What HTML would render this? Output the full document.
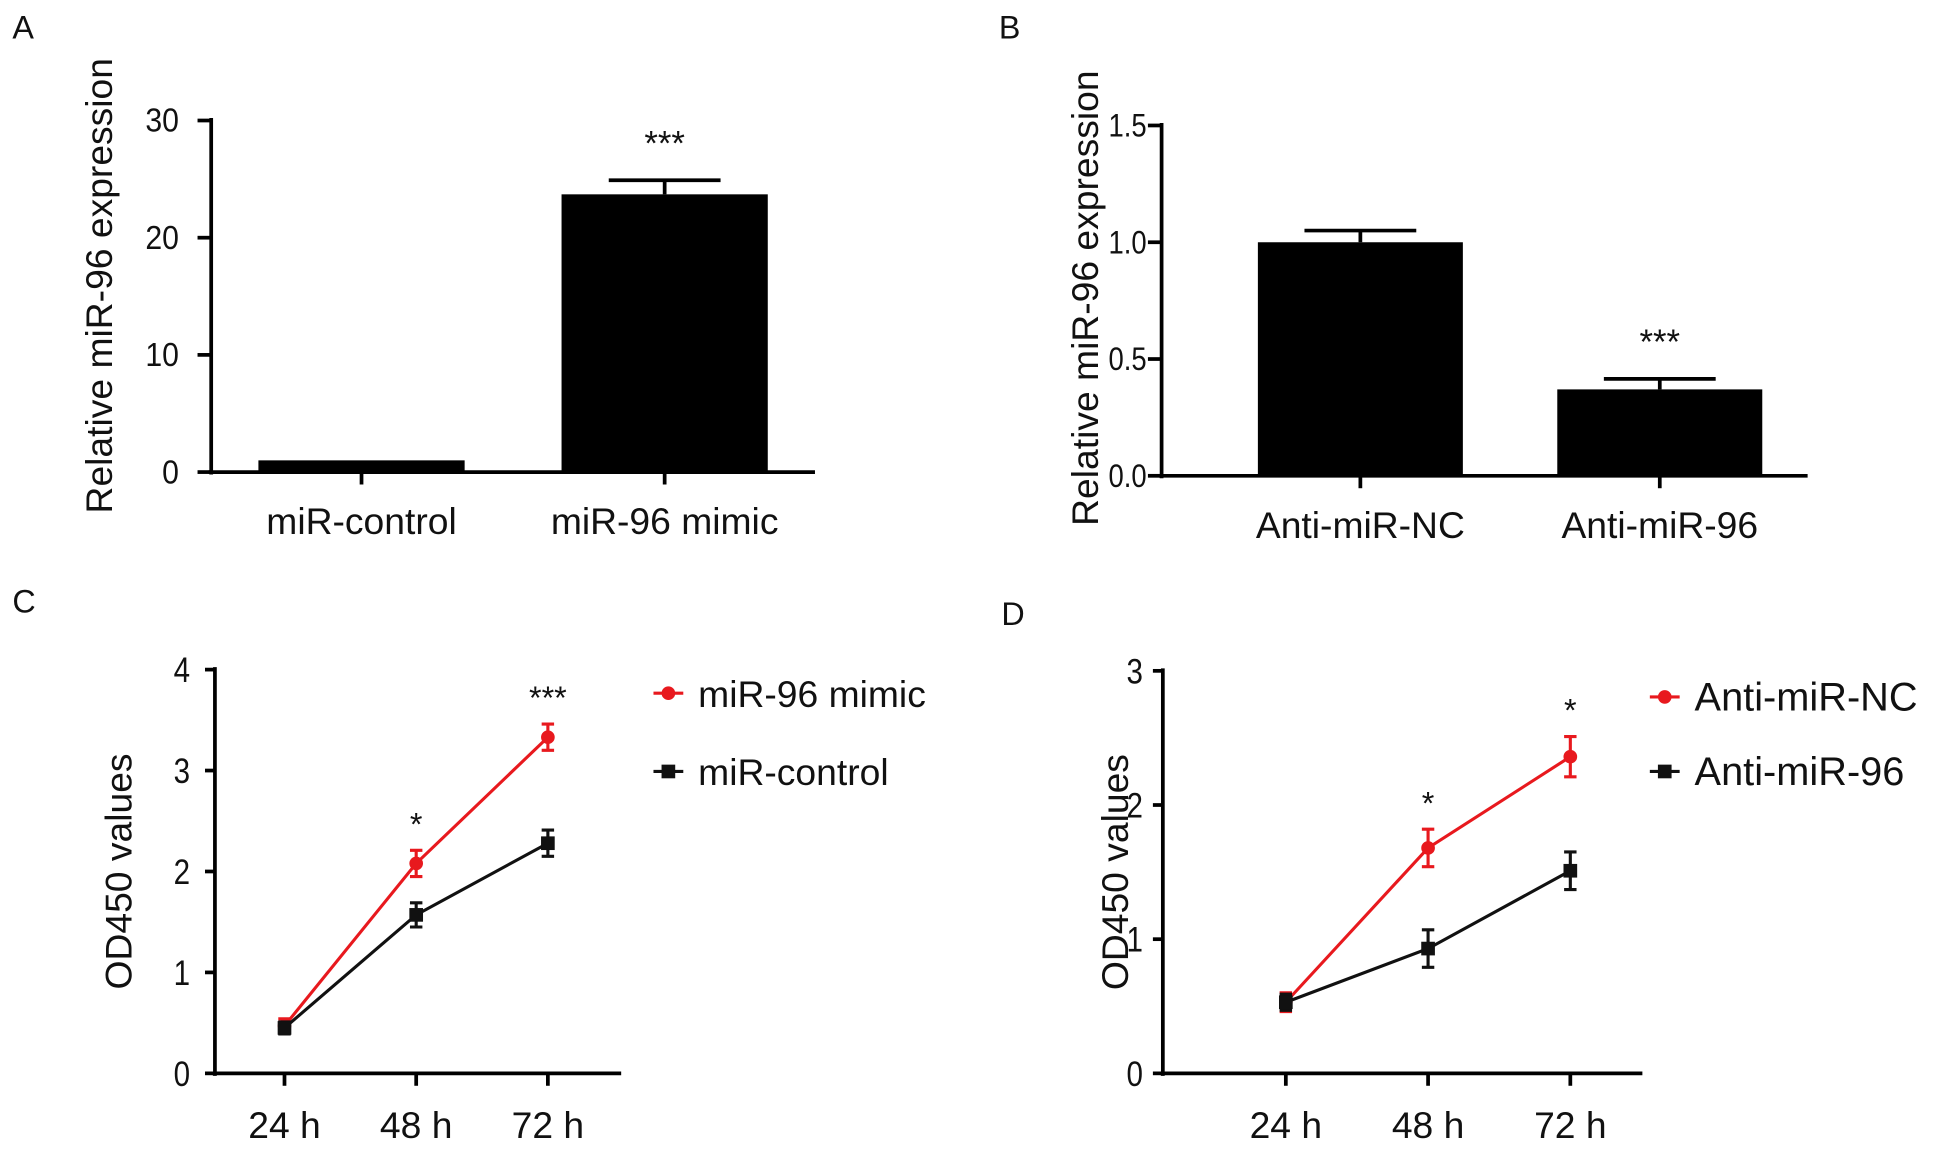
<!DOCTYPE html>
<html><head><meta charset="utf-8"><style>
html,body{margin:0;padding:0;background:#fff;}
svg{display:block;}
text{font-family:"Liberation Sans",Arial,sans-serif;fill:#111;}
</style></head><body>
<svg id="fig" width="1948" height="1150" viewBox="0 0 1568 925.7" preserveAspectRatio="none" xmlns="http://www.w3.org/2000/svg">
<text x="10" y="31" font-size="26">A</text>
<text x="804" y="31" font-size="26">B</text>
<text x="10" y="493" font-size="26">C</text>
<text x="806" y="503" font-size="26">D</text>
</svg>
<script>
// Panel A data
const aCategories = ["miR-control", "miR-96 mimic"];
const aValues = [1.0, 23.7];
const aErrors = [0.0, 1.2];
const aTicks = [0, 10, 20, 30];
const aSig = ["", "***"];
// Panel B data
const bCategories = ["Anti-miR-NC", "Anti-miR-96"];
const bValues = [1.0, 0.37];
const bErrors = [0.05, 0.045];
const bTicks = ["0.0", "0.5", "1.0", "1.5"];
const bSig = ["", "***"];
// Panel C data
const cTimes = ["24 h", "48 h", "72 h"];
const cMimic = [0.47, 2.08, 3.33];
const cMimicErr = [0.07, 0.13, 0.13];
const cControl = [0.45, 1.57, 2.28];
const cControlErr = [0.06, 0.12, 0.13];
const cTicks = [0, 1, 2, 3, 4];
const cSig = ["", "*", "***"];
// Panel D data
const dTimes = ["24 h", "48 h", "72 h"];
const dNC = [0.53, 1.68, 2.36];
const dNCErr = [0.07, 0.14, 0.15];
const d96 = [0.53, 0.93, 1.51];
const d96Err = [0.06, 0.14, 0.14];
const dTicks = [0, 1, 2, 3];
const dSig = ["", "*", "*"];

const svg = document.getElementById('fig');
const NS = "http://www.w3.org/2000/svg";
function mk(tag, attrs, parent){
  const e = document.createElementNS(NS, tag);
  for (const k in attrs) e.setAttribute(k, attrs[k]);
  (parent||svg).appendChild(e);
  return e;
}
function line(x1,y1,x2,y2,stroke,w,parent){ return mk('line',{x1,y1,x2,y2,stroke,'stroke-width':w},parent); }
function txt(x,y,s,size,anchor,parent){ const t=mk('text',{x,y,'font-size':size,'text-anchor':anchor},parent); t.textContent=s; return t; }
function tickLabel(x,y,s,size,sx,parent){
  const t = mk('text',{x:0,y:0,'font-size':size,'text-anchor':'end',transform:`translate(${x},${y}) scale(${sx},1)`},parent);
  t.textContent = s;
  return t;
}

function barPanel(cfg){
  const g = mk('g',{});
  
  
  const yS = v => cfg.y0 - (v - cfg.min)/(cfg.max - cfg.min)*(cfg.y0 - cfg.yTop);
  const xS = i => cfg.xs[i];
  const ya = line(cfg.ax, cfg.yTop-2, cfg.ax, cfg.y0+2, '#000', 3, g);
  
  
  cfg.ticks.forEach(t => {
    const v = parseFloat(t);
    const tk = line(cfg.ax-11, yS(v), cfg.ax, yS(v), '#000', 3, g);
    
    
    const lb = tickLabel(cfg.ax-cfg.lgap, yS(v)+9, String(t), cfg.lsize, cfg.lsx, g);
    
    
  });
  const yt = txt(0, 0, cfg.ytitle, 30, 'middle', g);
  yt.setAttribute('transform', `translate(${cfg.titleX},${cfg.titleY}) rotate(-90)`);
  
  
  cfg.values.forEach((v,i) => {
    const cx = xS(i);
    const top = yS(v);
    if (cfg.errors[i] > 0) {
      const errTop = yS(v + cfg.errors[i]);
      const el = line(cx, top, cx, errTop, '#000', 3, g);
      
      
      const cap = line(cx-45, errTop, cx+45, errTop, '#000', 3, g);
      
      
    }
    const errTop = yS(v + cfg.errors[i]);
    const r = mk('rect',{x:cx-cfg.bw/2, y:top, width:cfg.bw, height:cfg.y0-top, fill:'#000'}, g);
    
    
    const tk = line(cx, cfg.y0, cx, cfg.y0+10, '#000', 3, g);
    
    
    const lb = txt(cx, cfg.y0+50, cfg.cats[i], 30, 'middle', g);
    
    
    if (cfg.sig[i]) {
      const s = txt(cx, errTop-20, cfg.sig[i], 28, 'middle', g);
      
      
    }
  });
  const xa = line(cfg.ax-2, cfg.y0, cfg.axEnd, cfg.y0, '#000', 3, g);
  
  
}

barPanel({name:'panel-a-bar-chart', ax:170, axEnd:656, y0:380, yTop:97, min:0, max:30,
  xs:[291,535], bw:166, cats:aCategories, values:aValues, errors:aErrors, ticks:aTicks, sig:aSig,
  lgap:26, lsize:27, lsx:0.9,
  ytitle:'Relative miR-96 expression', titleX:90, titleY:230});
barPanel({name:'panel-b-bar-chart', ax:935, axEnd:1455, y0:383, yTop:101, min:0, max:1.5,
  xs:[1095,1336], bw:165, cats:bCategories, values:bValues, errors:bErrors, ticks:bTicks, sig:bSig,
  lgap:12, lsize:26, lsx:0.85,
  ytitle:'Relative miR-96 expression', titleX:884, titleY:240});

function linePanel(cfg){
  const g = mk('g',{});
  
  
  const yS = v => cfg.y0 - (v - cfg.min)/(cfg.max - cfg.min)*(cfg.y0 - cfg.yTop);
  const xS = i => cfg.x0 + i*cfg.step;
  const ya = line(cfg.ax, cfg.yTop-2, cfg.ax, cfg.y0+2, '#000', 3, g);
  
  
  cfg.ticks.forEach(v => {
    const tk = line(cfg.ax-8, yS(v), cfg.ax, yS(v), '#000', 3, g);
    
    
    const lb = tickLabel(cfg.ax-cfg.lgap, yS(v)+10, String(v), 28, 0.85, g);
    
    
  });
  const yt = txt(0, 0, 'OD450 values', 30, 'middle', g);
  yt.setAttribute('transform', `translate(${cfg.titleX},${(cfg.yTop+cfg.y0)/2}) rotate(-90)`);
  
  
  const xa = line(cfg.ax-2, cfg.y0, cfg.axEnd, cfg.y0, '#000', 3, g);
  
  
  cfg.times.forEach((t,i) => {
    const cx = xS(i);
    const tk = line(cx, cfg.y0, cx, cfg.y0+10, '#000', 3, g);
    
    
    const lb = txt(cx, cfg.y0+52, t, 30, 'middle', g);
    
    
  });
  cfg.series.forEach(s => {
    const pts = s.values.map((v,i) => xS(i)+','+yS(v)).join(' ');
    const pl = mk('polyline',{points:pts, fill:'none', stroke:s.color, 'stroke-width':2.5}, g);
    
    
    s.values.forEach((v,i) => {
      const cx = xS(i), cy = yS(v);
      const hi = yS(v + s.errs[i]), lo = yS(v - s.errs[i]);
      const eb = mk('path',{d:`M${cx},${hi}V${lo}M${cx-5},${hi}H${cx+5}M${cx-5},${lo}H${cx+5}`, stroke:s.color, 'stroke-width':2.5, fill:'none'}, g);
      
      
      let m;
      if (s.shape === 'circle') m = mk('circle',{cx, cy, r:5.5, fill:s.color}, g);
      else m = mk('rect',{x:cx-5.5, y:cy-5.5, width:11, height:11, fill:s.color}, g);
      
      
    });
  });
  cfg.sig.forEach((s,i) => {
    if (!s) return;
    const top = Math.min(...cfg.series.map(se => yS(se.values[i] + se.errs[i])));
    const t = txt(xS(i), top-12, s, 26, 'middle', g);
    
    
  });
  cfg.series.forEach((s,k) => {
    const ly = cfg.legY + k*cfg.legGap;
    const lg = mk('g',{}, g);
    
    
    line(cfg.legX-12, ly, cfg.legX+12, ly, s.color, 2.5, lg);
    if (s.shape === 'circle') mk('circle',{cx:cfg.legX, cy:ly, r:5.5, fill:s.color}, lg);
    else mk('rect',{x:cfg.legX-5.5, y:ly-5.5, width:11, height:11, fill:s.color}, lg);
    txt(cfg.legX+24, ly+11, s.label, cfg.legSize, 'start', lg);
  });
}

linePanel({name:'panel-c-line-chart', ax:173, axEnd:500, y0:864, yTop:539, min:0, max:4,
  x0:229, step:106, times:cTimes, ticks:cTicks, sig:cSig, titleX:106, lgap:20,
  legX:538, legY:558, legGap:63, legSize:30,
  series:[
    {key:'mir-96-mimic', label:'miR-96 mimic', color:'#e8191e', shape:'circle', values:cMimic, errs:cMimicErr},
    {key:'mir-control', label:'miR-control', color:'#111', shape:'square', values:cControl, errs:cControlErr}
  ]});
linePanel({name:'panel-d-line-chart', ax:936, axEnd:1322, y0:864, yTop:540, min:0, max:3,
  x0:1035, step:114.5, times:dTimes, ticks:dTicks, sig:dSig, titleX:908, lgap:16,
  legX:1340, legY:561, legGap:60, legSize:32,
  series:[
    {key:'anti-mir-nc', label:'Anti-miR-NC', color:'#e8191e', shape:'circle', values:dNC, errs:dNCErr},
    {key:'anti-mir-96', label:'Anti-miR-96', color:'#111', shape:'square', values:d96, errs:d96Err}
  ]});
</script>
</body></html>
